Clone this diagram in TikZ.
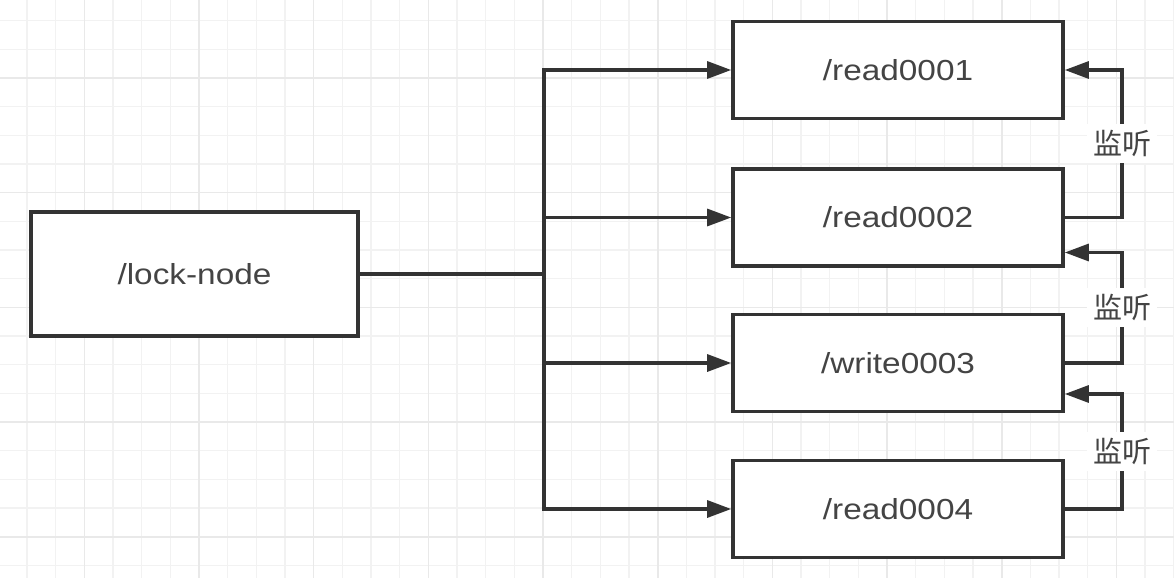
\documentclass[tikz,border=0pt]{standalone}
\usepackage{fontspec}
\setmainfont[FakeStretch=1.15]{Liberation Sans}
\newfontfamily\cjk{Noto Sans CJK SC}
\usetikzlibrary{arrows.meta,calc}
\definecolor{ln}{HTML}{333333}
\definecolor{tx}{HTML}{444444}
\definecolor{gminor}{HTML}{F2F2F2}
\definecolor{gmajor}{HTML}{E9E9E9}
\begin{document}
\begin{tikzpicture}[x=1pt,y=-1pt,
  minorline/.style={draw=gminor, line width=1.3pt},
  majorline/.style={draw=gmajor, line width=1.6pt},
  box/.style={draw=ln, line width=3.6pt, fill=white, text=tx,
    font=\fontsize{29}{34}\selectfont, inner sep=0pt},
  lockbox/.style={box, minimum width=327pt, minimum height=124pt},
  znode/.style={box, minimum width=330pt, minimum height=97pt},
  conn/.style={draw=ln, line width=3.1pt},
  arr/.style={conn, -{Triangle[length=24pt, width=17pt]}},
  lbl/.style={fill=white, inner sep=6pt, text=tx,
    font=\cjk\fontsize{29}{31}\selectfont}]
\useasboundingbox (0,0) rectangle (1174,578);
\fill[white] (0,0) rectangle (1174,578);
% grid
\foreach \i in {-3,...,38} {
  \draw[minorline] ({84.3+28.67*\i},0) -- ({84.3+28.67*\i},578);
}
\foreach \i in {-3,...,18} {
  \draw[minorline] (0,{78+28.67*\i}) -- (1174,{78+28.67*\i});
}
\foreach \i in {-1,...,9} {
  \draw[majorline] ({84.3+114.68*\i},0) -- ({84.3+114.68*\i},578);
}
\foreach \i in {-1,...,4} {
  \draw[majorline] (0,{78+114.68*\i}) -- (1174,{78+114.68*\i});
}
% nodes
\node[lockbox] (lock) at (194.5,274) {/lock-node};
\node[znode] (r1) at (898,70) {/read0001};
\node[znode] (r2) at (898,217.5) {/read0002};
\node[znode] (w3) at (898,363) {/write0003};
\node[znode] (r4) at (898,509) {/read0004};
\coordinate (trunk) at (544,274);
\coordinate (xr) at (1122,0);
% left connectors
\draw[conn] (lock.east) -- (trunk);
\draw[arr] (trunk) |- (r1.west);
\draw[arr] (trunk) |- (r2.west);
\draw[arr] (trunk) |- (w3.west);
\draw[arr] (trunk) |- (r4.west);
% watch connectors
\coordinate (t2) at ($(r2.east)+(0,35)$);
\coordinate (t3) at ($(w3.east)+(0,31)$);
\draw[arr] (r2.east) -- (r2.east -| xr) -- node[lbl]{监听} (r1.east -| xr) -- (r1.east);
\draw[arr] (w3.east) -- (w3.east -| xr) -- node[lbl]{监听} (t2 -| xr) -- (t2);
\draw[arr] (r4.east) -- (r4.east -| xr) -- node[lbl]{监听} (t3 -| xr) -- (t3);
\end{tikzpicture}
\end{document}
